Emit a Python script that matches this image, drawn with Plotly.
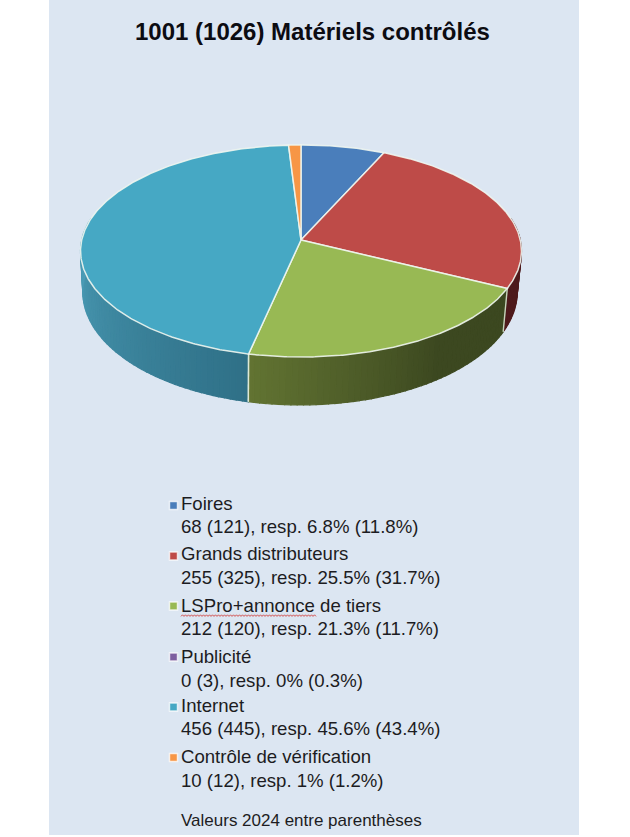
import numpy as np
import plotly.graph_objects as go

# ---- data ----
TITLE = "1001 (1026) Matériels contrôlés"
NOTE = "Valeurs 2024 entre parenthèses"
categories = ["Foires", "Grands distributeurs", "LSPro+annonce de tiers", "Publicité", "Internet", "Contrôle de vérification"]
values_2025 = [68, 255, 212, 0, 456, 10]
values_2024 = [121, 325, 120, 3, 445, 12]
percent_2025 = ["6.8", "25.5", "21.3", "0", "45.6", "1"]
percent_2024 = ["11.8", "31.7", "11.7", "0.3", "43.4", "1.2"]
colors = ["#4a7ebb", "#be4b48", "#98b954", "#7d5fa0", "#46a8c4", "#f79646"]

# ---- 3D pie projection (pixel axes) ----
X0, Y0, A, B, K = 301.0, 240.0, 219.3, 104.9, 0.1038
X1, Y1, A1, B1 = 300.0, 280.3, 216.0, 111.7
RIM = "rgba(240,246,240,0.9)"


def top_rim(phi):
    u, v = np.sin(phi), -np.cos(phi)
    d = 1 - K * v
    return X0 + A * u / d, Y0 + B * v / d


def bottom_rim(phi):
    u, v = np.sin(phi), -np.cos(phi)
    d = 1 - K * v
    return X1 + A1 * u / d, Y1 + B1 * v / d


def mix(c1, c2, t):
    t = float(np.clip(t, 0, 1))
    return "rgb(%d,%d,%d)" % tuple(round(a + (b - a) * t) for a, b in zip(c1, c2))


def side_color(i, deg, start, end):
    if i == 1:
        return "rgb(78,26,28)"
    if i == 2:
        return mix((60, 72, 32), (98, 116, 50), (deg - 145) / (end - 145))
    if i == 4:
        return mix((47, 112, 135), (76, 158, 184), (deg - start) / (275 - start))
    return "rgb(120,120,120)"


fig = go.Figure()
total = sum(values_2025)
edges = np.concatenate([[0], np.cumsum(values_2025)]) / total * 360.0

# side wall, as thin strips shaded along the rim
for i in range(len(values_2025)):
    start, end = edges[i], edges[i + 1]
    lo, hi = max(start, 78.0), min(end, 282.0)
    if hi <= lo:
        continue
    grid = np.append(np.arange(lo, hi, 1.5), hi)
    for a, b in zip(grid[:-1], grid[1:]):
        pa, pb = np.radians([a, b])
        xt, yt = top_rim(np.array([pa, pb]))
        xb, yb = bottom_rim(np.array([pb, pa]))
        col = side_color(i, (a + b) / 2, start, end)
        fig.add_trace(go.Scatter(
            x=np.concatenate([xt, xb, xt[:1]]), y=np.concatenate([yt, yb, yt[:1]]),
            mode="lines", fill="toself", fillcolor=col, line=dict(color=col, width=1.2),
            hoverinfo="skip", showlegend=False))

# vertical seams between wall segments
for i in range(1, len(edges) - 1):
    deg = edges[i]
    if 100 < deg < 260:
        p = np.radians(deg)
        xt, yt = top_rim(p)
        xb, yb = bottom_rim(p)
        fig.add_trace(go.Scatter(x=[xt, xb], y=[yt, yb], mode="lines",
                                 line=dict(color="rgba(225,235,215,0.85)", width=1.4),
                                 hoverinfo="skip", showlegend=False))

# top face wedges
for i in range(len(values_2025)):
    if values_2025[i] == 0:
        continue
    ph = np.radians(np.linspace(edges[i], edges[i + 1], max(4, int((edges[i + 1] - edges[i]) * 2))))
    xr, yr = top_rim(ph)
    fig.add_trace(go.Scatter(
        x=np.concatenate([[X0], xr, [X0]]), y=np.concatenate([[Y0], yr, [Y0]]),
        mode="lines", fill="toself", fillcolor=colors[i], line=dict(color=RIM, width=1.5),
        hoverinfo="skip", showlegend=False))

# legend swatches
legend_marker_y = [505.5, 556, 606, 657, 707, 757.5]
fig.add_trace(go.Scatter(
    x=[173.5] * len(categories), y=legend_marker_y, mode="markers",
    marker=dict(symbol="square", size=8, color=colors, line=dict(color="rgba(255,255,255,0.75)", width=1.5)),
    hoverinfo="skip", showlegend=False))

# spell-check squiggle below "LSPro+annonce"
sq_x = np.arange(181, 317.5, 1.5)
sq_y = 615.6 + 0.8 * (-1.0) ** np.arange(len(sq_x))
fig.add_trace(go.Scatter(x=sq_x, y=sq_y, mode="lines", line=dict(color="#d0403c", width=0.9),
                         hoverinfo="skip", showlegend=False))

FONT = "Liberation Sans, Arial, sans-serif"
TEXT = "#1c1c22"
notes = [dict(x=312, y=31, text=f"<b>{TITLE}</b>", showarrow=False, xanchor="center", yanchor="middle",
              font=dict(family=FONT, size=24, color="#0c0c12"))]
label_y = [503, 553, 605, 656, 705, 756]
value_y = [526, 577, 628, 680, 728, 780]
for c, v, p, a, b, ly, vy in zip(categories, values_2025, values_2024, percent_2025, percent_2024, label_y, value_y):
    notes.append(dict(x=178.5, y=ly, text=c, showarrow=False, xanchor="left", yanchor="middle",
                      font=dict(family=FONT, size=18.6, color=TEXT)))
    notes.append(dict(x=178.5, y=vy, text=f"{v} ({p}), resp. {a}% ({b}%)", showarrow=False,
                      xanchor="left", yanchor="middle", font=dict(family=FONT, size=18.6, color=TEXT)))
notes.append(dict(x=178.5, y=820, text=NOTE, showarrow=False, xanchor="left", yanchor="middle",
                  font=dict(family=FONT, size=17, color=TEXT)))

fig.update_layout(
    width=630, height=837, margin=dict(l=0, r=0, t=0, b=0),
    paper_bgcolor="white", plot_bgcolor="white", showlegend=False,
    xaxis=dict(range=[0, 630], visible=False, fixedrange=True),
    yaxis=dict(range=[837, 0], visible=False, fixedrange=True),
    annotations=notes,
    shapes=[dict(type="rect", xref="x", yref="y", x0=49, x1=579, y0=0, y1=835,
                 fillcolor="#dce6f2", line=dict(width=0), layer="below")],
)

fig.write_html("out.html", config=dict(displayModeBar=False),
               post_script="document.body.style.margin='0';document.body.style.overflow='hidden';")
